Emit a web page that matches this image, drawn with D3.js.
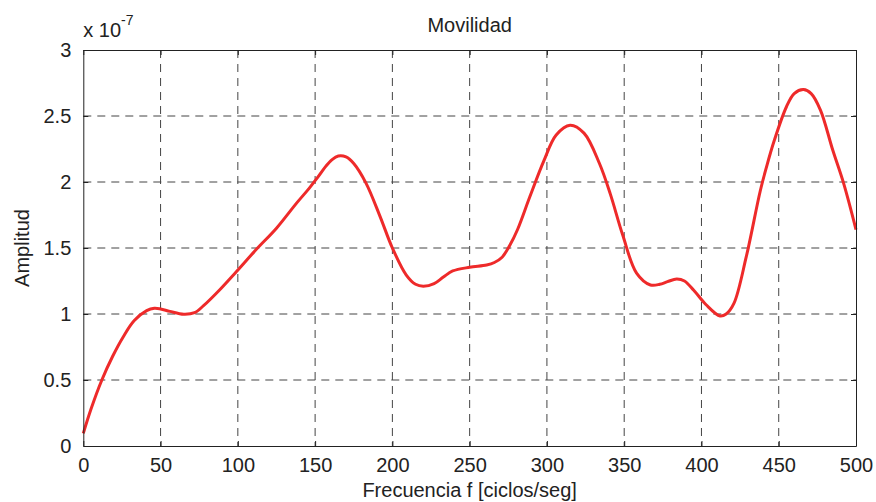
<!DOCTYPE html>
<html>
<head>
<meta charset="utf-8">
<script src="https://cdn.jsdelivr.net/npm/d3@7"></script>
<style>
  body { margin: 0; background: #fff; }
  text { font-family: "Liberation Sans", Arial, sans-serif; fill: #222; }
</style>
</head>
<body>
<div class="visHolder"></div>
<script>
const width = 876,
  height = 502;

const margin = { top: 50, right: 20, bottom: 56, left: 83.3 };

// frequency [ciclos/seg]
const freq = [
  0, 5, 12, 19, 26, 33, 41, 46, 50, 56, 65, 72, 78, 88, 99, 112, 125, 138,
  146, 152, 157, 161, 165, 170, 175, 183, 192, 200, 209, 215, 220, 227, 233,
  239, 250, 261, 266, 271, 276, 281, 289, 298, 306, 315, 324, 334, 341, 349,
  358, 367, 373, 378, 384, 389, 395, 403, 412, 416, 421, 429, 438, 442, 447,
  455, 460, 466, 471, 477, 485, 492, 500,
];

// amplitud (x 10^-7)
const amp = [
  0.096, 0.28, 0.5, 0.68, 0.83, 0.95, 1.025, 1.043, 1.038, 1.02, 0.998, 1.01,
  1.065, 1.18, 1.32, 1.49, 1.65, 1.84, 1.95, 2.04, 2.12, 2.17, 2.197, 2.19,
  2.14, 1.99, 1.74, 1.5, 1.295, 1.225, 1.21, 1.23, 1.28, 1.326, 1.354, 1.371,
  1.39, 1.43, 1.52, 1.64, 1.89, 2.16, 2.356, 2.43, 2.37, 2.14, 1.91, 1.6,
  1.31, 1.22, 1.225, 1.245, 1.265, 1.25, 1.18, 1.07, 0.985, 1.0, 1.08, 1.434,
  1.93, 2.11, 2.31, 2.57, 2.67, 2.7, 2.67, 2.545, 2.24, 1.99, 1.64,
];

const xTicks = [0, 50, 100, 150, 200, 250, 300, 350, 400, 450, 500];
const yTicks = [0, 0.5, 1, 1.5, 2, 2.5, 3];

const svg = d3
  .select(".visHolder")
  .append("svg")
  .attr("width", width)
  .attr("height", height);

const xScale = d3
  .scaleLinear()
  .domain([0, 500])
  .range([margin.left, width - margin.right]);

const yScale = d3
  .scaleLinear()
  .domain([0, 3])
  .range([height - margin.bottom, margin.top]);

const plotW = width - margin.right - margin.left,
  plotH = height - margin.bottom - margin.top;

// grid
svg
  .append("g")
  .selectAll("line")
  .data(xTicks.slice(1, -1))
  .enter()
  .append("line")
  .attr("x1", (d) => xScale(d))
  .attr("x2", (d) => xScale(d))
  .attr("y1", margin.top)
  .attr("y2", height - margin.bottom)
  .style("stroke", "#444")
  .style("stroke-dasharray", "8,6");

svg
  .append("g")
  .selectAll("line")
  .data(yTicks.slice(1, -1))
  .enter()
  .append("line")
  .attr("x1", margin.left)
  .attr("x2", width - margin.right)
  .attr("y1", (d) => yScale(d))
  .attr("y2", (d) => yScale(d))
  .style("stroke", "#444")
  .style("stroke-dasharray", "8,6");

// curve
const line = d3
  .line()
  .x((d, i) => xScale(freq[i]))
  .y((d) => yScale(d))
  .curve(d3.curveCatmullRom.alpha(0.5));

svg
  .append("path")
  .datum(amp)
  .attr("d", line)
  .style("fill", "none")
  .style("stroke", "#ee2a2a")
  .style("stroke-width", 3)
  .style("stroke-linejoin", "round");

// axes (MATLAB style, ticks inside)
const xAxis = d3.axisBottom(xScale).tickValues(xTicks).tickSizeInner(-5).tickSizeOuter(0).tickPadding(12);
const yAxis = d3.axisLeft(yScale).tickValues(yTicks).tickSizeInner(-5).tickSizeOuter(0).tickPadding(12).tickFormat(d3.format("~g"));
const xTop = d3.axisTop(xScale).tickValues(xTicks).tickSizeInner(-5).tickSizeOuter(0).tickFormat("");
const yRight = d3.axisRight(yScale).tickValues(yTicks).tickSizeInner(-5).tickSizeOuter(0).tickFormat("");

const styleAxis = (g) => {
  g.select(".domain").style("stroke", "#222");
  g.selectAll(".tick line").style("stroke", "#222");
  g.selectAll(".tick text")
    .style("font-size", "20px")
    .style("fill", "#222")
    .style("font-family", "'Liberation Sans', Arial, sans-serif");
};

svg
  .append("g")
  .attr("id", "x-axis")
  .attr("transform", "translate(0," + (height - margin.bottom) + ")")
  .call(xAxis)
  .call(styleAxis);

svg
  .append("g")
  .attr("id", "y-axis")
  .attr("transform", "translate(" + margin.left + ",0)")
  .call(yAxis)
  .call(styleAxis);

svg
  .append("g")
  .attr("transform", "translate(0," + margin.top + ")")
  .call(xTop)
  .call(styleAxis);

svg
  .append("g")
  .attr("transform", "translate(" + (width - margin.right) + ",0)")
  .call(yRight)
  .call(styleAxis);

// labels
svg
  .append("text")
  .attr("x", margin.left + plotW / 2)
  .attr("y", 32)
  .attr("text-anchor", "middle")
  .style("font-size", "20px")
  .text("Movilidad");

svg
  .append("text")
  .attr("x", margin.left + plotW / 2)
  .attr("y", 497)
  .attr("text-anchor", "middle")
  .style("font-size", "20px")
  .text("Frecuencia f [ciclos/seg]");

svg
  .append("text")
  .attr("transform", "translate(29," + (margin.top + plotH / 2) + ") rotate(-90)")
  .attr("text-anchor", "middle")
  .style("font-size", "20px")
  .text("Amplitud");

const expo = svg
  .append("text")
  .attr("x", margin.left)
  .attr("y", 37)
  .style("font-size", "20px");
expo.append("tspan").text("x 10");
expo.append("tspan").attr("dy", -12).style("font-size", "14px").text("-7");
</script>
</body>
</html>
